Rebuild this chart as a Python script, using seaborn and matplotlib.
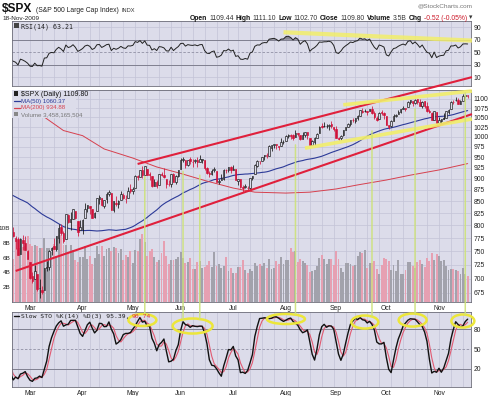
import numpy as np
import pandas as pd
import matplotlib
matplotlib.use("Agg")
import matplotlib.pyplot as plt
import matplotlib.transforms as mtransforms
from matplotlib.patches import Ellipse, ConnectionPatch, Rectangle
from matplotlib.lines import Line2D
import seaborn as sns

sns.set_style("white")
plt.rcParams['font.family'] = ['Liberation Sans', 'DejaVu Sans']

# ---------------------------------------------------------------- data
trading_days = {
    "2009-01": [2, 5, 6, 7, 8, 9, 12, 13, 14, 15, 16, 20, 21, 22, 23, 26, 27, 28, 29, 30],
    "2009-02": [2, 3, 4, 5, 6, 9, 10, 11, 12, 13, 17, 18, 19, 20, 23, 24, 25, 26, 27],
    "2009-03": [2, 3, 4, 5, 6, 9, 10, 11, 12, 13, 16, 17, 18, 19, 20, 23, 24, 25, 26, 27, 30, 31],
    "2009-04": [1, 2, 3, 6, 7, 8, 9, 13, 14, 15, 16, 17, 20, 21, 22, 23, 24, 27, 28, 29, 30],
    "2009-05": [1, 4, 5, 6, 7, 8, 11, 12, 13, 14, 15, 18, 19, 20, 21, 22, 26, 27, 28, 29],
    "2009-06": [1, 2, 3, 4, 5, 8, 9, 10, 11, 12, 15, 16, 17, 18, 19, 22, 23, 24, 25, 26, 29, 30],
    "2009-07": [1, 2, 6, 7, 8, 9, 10, 13, 14, 15, 16, 17, 20, 21, 22, 23, 24, 27, 28, 29, 30, 31],
    "2009-08": [3, 4, 5, 6, 7, 10, 11, 12, 13, 14, 17, 18, 19, 20, 21, 24, 25, 26, 27, 28, 31],
    "2009-09": [1, 2, 3, 4, 8, 9, 10, 11, 14, 15, 16, 17, 18, 21, 22, 23, 24, 25, 28, 29, 30],
    "2009-10": [1, 2, 5, 6, 7, 8, 9, 12, 13, 14, 15, 16, 19, 20, 21, 22, 23, 26, 27, 28, 29, 30],
    "2009-11": [2, 3, 4, 5, 6, 9, 10, 11, 12, 13, 16, 17, 18],
}

# closes of Dec 2008 (only feed the MA(50) / RSI(14) warm-up)
prior_closes_dec2008 = [816.21, 848.81, 870.74, 845.22, 876.07, 909.70, 888.67, 899.24, 873.59, 879.73,
                        868.57, 913.18, 904.42, 885.28, 887.88, 871.63, 863.16, 868.15, 872.80, 869.42,
                        890.64, 903.25]

opens = [
    # Jan
    902.99, 929.17, 931.17, 927.45, 905.73, 909.91, 890.40, 869.79, 867.28, 841.99, 844.45, 849.64, 806.77,
    839.74, 822.16, 832.50, 837.30, 845.73, 868.89, 845.69,
    # Feb
    823.09, 825.69, 837.77, 831.75, 846.09, 868.24, 866.87, 827.41, 829.91, 833.95, 818.61, 791.06, 787.91,
    775.87, 773.25, 744.69, 770.64, 765.76, 749.93,
    # Mar
    729.57, 704.44, 698.60, 708.27, 684.04, 680.76, 679.28, 719.59, 720.89, 751.97, 758.84, 753.88, 776.01,
    797.92, 784.58, 772.31, 820.60, 806.81, 814.06, 828.68, 809.07, 790.88,
    # Apr
    793.59, 814.53, 835.13, 839.75, 834.12, 816.76, 829.29, 855.33, 856.88, 839.44, 854.54, 865.18, 868.27,
    831.25, 847.26, 844.62, 853.91, 862.82, 854.48, 856.85, 876.59,
    # May
    872.74, 879.21, 906.10, 903.95, 919.58, 909.03, 922.99, 910.52, 905.40, 884.24, 892.76, 886.07, 909.67,
    908.62, 900.42, 888.68, 887.00, 909.95, 892.96, 907.02,
    # Jun
    923.26, 942.87, 942.51, 932.49, 945.67, 938.12, 940.35, 942.73, 939.04, 943.44, 942.45, 925.60, 911.89,
    910.86, 919.96, 918.13, 893.46, 896.31, 899.45, 918.84, 919.86, 927.15,
    # Jul
    920.82, 921.24, 894.27, 898.60, 881.90, 881.28, 880.03, 879.57, 900.77, 910.15, 930.17, 940.56, 942.07,
    951.97, 953.40, 954.07, 972.16, 978.63, 981.48, 977.66, 976.01, 986.80,
    # Aug
    990.22, 1001.41, 1005.41, 1004.06, 999.83, 1008.89, 1005.77, 994.00, 1005.86, 1012.23, 998.18, 980.62,
    986.88, 996.41, 1009.06, 1026.59, 1026.63, 1027.35, 1027.81, 1031.62, 1025.21,
    # Sep
    1019.52, 996.07, 996.12, 1003.84, 1018.67, 1025.36, 1032.99, 1043.92, 1040.15, 1049.03, 1053.99, 1067.87,
    1066.60, 1067.14, 1066.35, 1072.69, 1062.56, 1049.48, 1045.38, 1063.69, 1061.02,
    # Oct
    1054.91, 1029.71, 1026.87, 1042.02, 1053.65, 1060.03, 1065.28, 1071.63, 1074.96, 1078.68, 1090.36,
    1094.67, 1088.22, 1098.64, 1090.36, 1080.96, 1095.62, 1080.36, 1067.54, 1061.51, 1043.19, 1065.41,
    # Nov
    1036.18, 1040.92, 1047.14, 1047.30, 1064.95, 1072.31, 1091.86, 1096.04, 1098.31, 1087.59, 1094.13,
    1109.22, 1109.44,
]
highs = [
    934.73, 936.63, 943.85, 927.45, 910.00, 911.93, 890.40, 877.02, 867.28, 851.59, 858.13, 849.64, 841.72,
    839.74, 838.61, 852.53, 850.45, 877.86, 868.89, 851.66,
    830.78, 842.60, 851.85, 850.55, 870.75, 875.01, 868.05, 838.22, 835.48, 839.43, 818.61, 796.17, 797.58,
    778.69, 777.85, 775.49, 780.12, 779.42, 751.27,
    729.57, 711.67, 724.12, 708.27, 699.09, 686.14, 719.60, 731.92, 752.63, 758.29, 774.53, 778.12, 803.04,
    803.24, 788.91, 823.37, 823.65, 826.78, 832.98, 828.68, 809.07, 810.48,
    813.62, 845.61, 842.50, 839.75, 834.12, 828.42, 856.91, 864.31, 856.88, 852.93, 870.35, 875.63, 868.27,
    850.09, 861.78, 852.87, 871.80, 868.83, 864.48, 882.06, 888.70,
    880.48, 907.85, 907.70, 920.28, 929.58, 930.17, 922.99, 915.57, 905.40, 898.36, 896.97, 910.00, 916.39,
    924.60, 900.42, 896.65, 911.76, 913.84, 909.45, 920.02,
    947.77, 949.38, 942.51, 942.47, 951.69, 946.33, 946.92, 949.77, 956.23, 946.30, 942.45, 928.00, 918.44,
    921.93, 927.09, 918.13, 898.69, 910.85, 921.42, 922.00, 927.99, 930.01,
    931.92, 921.24, 898.72, 898.60, 886.80, 887.86, 883.57, 901.05, 905.84, 933.95, 943.96, 941.89, 951.62,
    956.53, 959.83, 979.42, 979.79, 982.49, 982.35, 977.76, 996.68, 993.18,
    1003.61, 1007.12, 1006.64, 1008.00, 1018.00, 1010.12, 1005.77, 1012.78, 1013.14, 1012.60, 998.18, 991.20,
    999.61, 1008.92, 1027.59, 1035.82, 1037.75, 1032.47, 1033.33, 1039.47, 1025.21,
    1028.45, 1000.34, 1003.43, 1016.48, 1026.07, 1036.34, 1044.14, 1048.18, 1049.74, 1056.04, 1068.76,
    1074.77, 1071.52, 1067.28, 1073.81, 1080.15, 1066.29, 1053.47, 1065.13, 1069.62, 1063.40,
    1054.91, 1030.60, 1042.58, 1060.55, 1058.02, 1070.67, 1071.51, 1079.46, 1075.30, 1093.17, 1096.56,
    1094.67, 1100.17, 1098.64, 1101.36, 1095.21, 1095.83, 1091.75, 1072.48, 1063.26, 1066.83, 1065.41,
    1052.18, 1046.36, 1061.00, 1066.65, 1071.48, 1093.19, 1096.42, 1105.37, 1101.97, 1097.79, 1113.69,
    1110.52, 1111.10,
]
lows = [
    899.35, 919.53, 927.28, 902.37, 896.81, 888.31, 864.32, 862.02, 836.93, 817.04, 830.66, 804.47, 804.30,
    811.29, 806.07, 827.69, 835.40, 845.73, 844.15, 821.67,
    812.87, 821.98, 829.18, 819.91, 845.42, 861.65, 822.99, 822.30, 808.06, 825.21, 789.17, 780.43, 777.03,
    754.25, 742.37, 744.69, 752.89, 751.75, 734.52,
    699.70, 692.30, 698.60, 677.93, 666.79, 672.88, 679.28, 713.85, 714.76, 742.46, 753.37, 749.93, 765.64,
    781.82, 766.20, 772.31, 805.48, 791.37, 814.06, 813.43, 779.81, 790.88,
    783.32, 814.53, 826.70, 822.79, 814.53, 814.84, 829.29, 845.35, 840.25, 835.58, 847.04, 860.87, 832.39,
    826.83, 840.57, 835.45, 853.91, 854.65, 847.12, 856.85, 868.51,
    866.10, 879.21, 897.34, 903.95, 901.36, 909.03, 908.68, 896.46, 882.27, 882.52, 878.94, 886.07, 905.22,
    901.37, 879.61, 883.75, 881.46, 891.87, 887.60, 903.56,
    923.26, 938.46, 923.85, 929.32, 934.13, 926.44, 936.15, 927.97, 939.04, 935.66, 919.65, 911.60, 903.78,
    907.94, 915.80, 893.04, 888.86, 896.31, 896.27, 913.03, 916.18, 912.86,
    920.82, 896.42, 886.36, 879.93, 869.32, 878.45, 872.81, 875.32, 896.50, 910.15, 927.45, 934.65, 940.99,
    943.22, 947.75, 953.27, 965.95, 972.29, 969.35, 968.65, 976.01, 982.85,
    990.22, 996.68, 994.31, 992.49, 999.83, 1000.99, 992.40, 993.36, 1000.82, 994.60, 978.51, 980.62,
    980.62, 996.39, 1009.06, 1022.48, 1026.21, 1021.57, 1016.20, 1023.13, 1014.62,
    996.28, 991.97, 992.25, 1001.65, 1018.67, 1023.97, 1028.04, 1038.40, 1035.00, 1043.42, 1052.87,
    1061.20, 1064.27, 1057.46, 1066.35, 1060.39, 1045.85, 1041.17, 1045.38, 1057.83, 1046.47,
    1029.45, 1019.95, 1025.92, 1042.02, 1050.10, 1060.03, 1063.00, 1071.63, 1066.71, 1078.68, 1086.41,
    1081.53, 1086.48, 1086.16, 1080.77, 1074.31, 1075.49, 1065.23, 1060.62, 1042.19, 1043.19, 1033.38,
    1029.38, 1033.94, 1045.15, 1047.30, 1059.32, 1072.31, 1087.40, 1093.81, 1084.90, 1085.33, 1094.13,
    1102.19, 1102.70,
]
closes = [
    931.80, 927.45, 934.70, 906.65, 909.73, 890.35, 870.26, 871.79, 842.62, 843.74, 850.12, 805.22, 840.24,
    827.50, 831.95, 836.57, 845.71, 874.09, 845.14, 825.88,
    825.44, 838.51, 832.23, 845.85, 868.60, 869.89, 827.16, 833.74, 835.19, 826.84, 789.17, 788.42, 778.94,
    770.05, 743.33, 773.14, 764.90, 752.83, 735.09,
    700.82, 696.33, 712.87, 682.55, 683.38, 676.53, 719.60, 721.36, 750.74, 756.55, 753.89, 778.12, 794.35,
    784.04, 768.54, 822.92, 806.12, 813.88, 832.86, 815.94, 787.53, 797.87,
    811.08, 834.38, 842.50, 835.48, 815.55, 825.16, 856.56, 858.73, 841.50, 852.06, 865.30, 869.60, 832.39,
    850.08, 843.55, 851.92, 866.23, 857.51, 855.16, 873.64, 872.81,
    877.52, 907.24, 903.80, 919.53, 907.39, 929.23, 909.24, 908.35, 883.92, 893.07, 882.88, 909.71, 908.13,
    903.47, 888.33, 887.00, 910.33, 893.06, 906.83, 919.14,
    942.87, 944.74, 931.76, 942.46, 940.09, 939.14, 942.43, 939.15, 944.89, 946.21, 923.72, 911.97, 910.71,
    918.37, 921.23, 893.04, 895.10, 900.94, 920.26, 918.90, 927.23, 919.32,
    923.33, 896.42, 898.72, 881.03, 879.56, 882.68, 879.13, 901.05, 905.84, 932.68, 940.74, 940.38, 951.13,
    954.58, 954.07, 976.29, 979.26, 982.18, 979.62, 975.15, 986.75, 987.48,
    1002.63, 1005.65, 1002.72, 997.08, 1010.48, 1007.10, 994.35, 1005.81, 1012.73, 1004.09, 979.73, 989.67,
    996.46, 1007.37, 1026.13, 1025.57, 1028.00, 1028.12, 1030.98, 1028.93, 1020.62,
    998.04, 994.75, 1003.24, 1016.40, 1025.39, 1033.37, 1044.14, 1042.73, 1049.34, 1052.63, 1068.76,
    1065.49, 1068.30, 1064.66, 1071.66, 1060.87, 1050.78, 1044.38, 1062.98, 1060.61, 1057.08,
    1029.85, 1025.21, 1040.46, 1054.72, 1057.58, 1065.48, 1071.49, 1076.19, 1073.19, 1092.02, 1096.56,
    1087.68, 1097.91, 1091.06, 1081.40, 1092.91, 1079.60, 1066.95, 1063.41, 1042.63, 1066.11, 1036.19,
    1042.88, 1045.41, 1046.50, 1066.63, 1069.30, 1093.08, 1093.01, 1098.51, 1087.24, 1093.48, 1109.30,
    1110.32, 1109.80,
]
volumes_bn = [
    4.05, 5.41, 5.39, 4.70, 4.99, 4.83, 4.73, 5.57, 5.79, 7.81, 6.79, 6.38, 6.47, 5.84, 5.83, 6.04, 5.35,
    6.20, 5.07, 5.35,
    5.67, 5.89, 6.42, 6.62, 6.48, 5.57, 6.29, 5.93, 6.48, 5.30, 5.91, 5.74, 5.75, 8.21, 7.23, 7.23, 7.48,
    7.60, 8.93,
    7.87, 7.58, 7.67, 7.51, 7.33, 7.28, 8.62, 7.26, 7.33, 6.79, 7.88, 6.16, 9.10, 9.03, 7.64, 7.72, 6.77,
    7.69, 6.99, 5.60, 5.35, 6.09,
    6.03, 7.54, 5.86, 6.21, 5.16, 5.94, 7.60, 6.43, 7.57, 6.24, 7.10, 7.35, 6.87, 7.44, 7.33, 6.56, 7.11,
    5.61, 6.33, 6.10, 6.86,
    5.31, 7.04, 6.88, 8.56, 9.12, 8.16, 6.15, 6.87, 7.09, 6.13, 5.44, 5.70, 6.62, 8.21, 6.19, 5.16, 5.67,
    5.70, 5.74, 6.05,
    6.71, 5.99, 5.32, 5.35, 5.92, 4.48, 4.44, 5.38, 5.50, 4.53, 4.70, 4.95, 5.52, 4.68, 6.71, 4.90, 5.07,
    4.64, 4.91, 6.08, 4.21, 4.63,
    3.92, 3.93, 4.71, 4.67, 5.72, 4.35, 3.91, 4.50, 4.15, 5.24, 4.90, 5.14, 4.85, 5.31, 4.63, 5.76, 4.46,
    4.63, 5.49, 5.18, 6.04, 5.14,
    5.60, 5.71, 7.24, 6.75, 6.83, 5.41, 5.77, 5.50, 5.25, 4.94, 4.09, 4.20, 4.26, 4.89, 5.89, 6.30, 5.77,
    5.08, 5.79, 5.79, 5.00,
    6.86, 5.84, 4.62, 4.10, 5.24, 5.20, 5.19, 4.92, 4.98, 6.19, 6.79, 6.67, 7.00, 4.61, 5.25, 5.31, 5.51,
    4.51, 3.73, 4.95, 5.99,
    5.79, 5.58, 4.31, 5.03, 4.24, 5.60, 3.76, 3.71, 4.32, 5.41, 5.37, 4.89, 4.62, 5.40, 5.62, 5.19, 4.77,
    6.00, 5.56, 6.60, 5.60, 6.51,
    6.20, 5.49, 5.64, 4.85, 4.28, 4.46, 4.39, 4.29, 4.16, 3.79, 4.57, 3.82, 3.46,
]

# 200-day moving average
ma200_dates = ["2009-02-19", "2009-03-02", "2009-03-10", "2009-03-20", "2009-04-01", "2009-04-15",
               "2009-05-01", "2009-05-15", "2009-06-01", "2009-06-15", "2009-07-01", "2009-07-15",
               "2009-08-03", "2009-08-17", "2009-09-01", "2009-09-15", "2009-10-01", "2009-10-15",
               "2009-11-02", "2009-11-18"]
ma200_values = [1098, 1072, 1051, 1016, 1003, 970, 948, 927, 912, 896, 879, 870,
                868, 870, 877, 886, 897, 908, 920, 934.88]

month_names = ["Mar", "Apr", "May", "Jun", "Jul", "Aug", "Sep", "Oct", "Nov"]
price_ticks = [675, 700, 725, 750, 775, 800, 825, 850, 875, 900, 925, 950, 975, 1000, 1025, 1050, 1075, 1100]
rsi_ticks = [10, 30, 50, 70, 90]
sto_ticks = [20, 50, 80]
volume_ticks_bn = [2, 4, 6, 8, 10]
volume_tick_labels = ["2B", "4B", "6B", "8B", "10B"]

# hand-drawn annotations (date, value)
red_channel_upper = [("2009-05-05", 934.0), ("2009-11-18", 1159.0)]
red_channel_lower = [("2009-02-20", 713.5), ("2009-11-18", 1055.0)]
yellow_price_upper = [("2009-09-04", 1084.0), ("2009-11-18", 1121.0)]
yellow_price_lower = [("2009-08-13", 972.0), ("2009-11-18", 1044.0)]
yellow_rsi = [("2009-07-31", 82.0), ("2009-11-18", 69.0)]
green_marker_dates = ["2009-05-08", "2009-06-02", "2009-06-11", "2009-08-07", "2009-09-23", "2009-10-19",
                      "2009-11-17"]
green_marker_price_top = [905, 917, 908, 980, 1015, 1073, 1117]
green_marker_sto_bottom = [103, 95, 95.5, 103, 99.5, 104, 102]
sto_circle_dates = ["2009-05-07", "2009-06-08", "2009-08-03", "2009-09-18", "2009-10-16", "2009-11-16"]
sto_circle_levels = [94, 85, 95.6, 91, 94, 92.6]
sto_circle_widths_days = [11.7, 16.7, 15.9, 11.3, 11.7, 9.6]
sto_circle_heights = [18, 22.7, 15.2, 19.7, 19.7, 19.7]

# ---------------------------------------------------------------- derived series
dates = [pd.Timestamp(f"{m}-{d:02d}") for m, days in trading_days.items() for d in days]
pos_of = {d.strftime("%Y-%m-%d"): i for i, d in enumerate(dates)}
n = len(dates)
xs = np.arange(n)
o = np.array(opens); h = np.array(highs); l = np.array(lows); c = np.array(closes)
v = np.array(volumes_bn)

all_c = np.array(prior_closes_dec2008 + closes)
npri = len(prior_closes_dec2008)
ma50 = pd.Series(all_c).rolling(50).mean().to_numpy()[npri:]

delta = np.diff(all_c)
gain = np.clip(delta, 0, None); loss = np.clip(-delta, 0, None)
rsi_all = np.full(len(all_c), np.nan)
ag, al = gain[:14].mean(), loss[:14].mean()
rsi_all[14] = 100 - 100 / (1 + ag / al)
for k in range(14, len(delta)):
    ag = (ag * 13 + gain[k]) / 14
    al = (al * 13 + loss[k]) / 14
    rsi_all[k + 1] = 100 - 100 / (1 + ag / al)
rsi = rsi_all[npri:]

hh = pd.Series(h).rolling(14).max(); ll = pd.Series(l).rolling(14).min()
fast_k = 100 * (pd.Series(c) - ll) / (hh - ll)
slow_k = fast_k.rolling(3).mean().to_numpy()
slow_d = pd.Series(slow_k).rolling(3).mean().to_numpy()

week_starts = [i for i in range(1, n) if dates[i].weekday() < dates[i - 1].weekday()]
month_starts = [i for i in range(1, n) if dates[i].month != dates[i - 1].month][1:]

# ---------------------------------------------------------------- figure
W, H = 490, 396
BG = '#dcdcea'
GRID = '#c3c3d7'
DARK = '#808090'
RED = '#d0123a'
XMIN, XMAX = 31.48, 223.4

fig = plt.figure(figsize=(W / 100, H / 100), dpi=100)
fig.patch.set_facecolor('white')


def rect(x0, y0, x1, y1):
    return [x0 / W, 1 - y1 / H, (x1 - x0) / W, (y1 - y0) / H]


ax_rsi = fig.add_axes(rect(12, 21, 471, 86))
ax_main = fig.add_axes(rect(12, 90, 471, 302))
ax_sto = fig.add_axes(rect(12, 312, 471, 386.5))
ax_vl = ax_main.twinx()

for ax in (ax_rsi, ax_main, ax_sto):
    ax.set_facecolor(BG)
    for s in ax.spines.values():
        s.set_color('#6c6c78'); s.set_linewidth(0.6)
    ax.set_xlim(XMIN, XMAX)
    ax.yaxis.tick_right()
    ax.yaxis.set_label_position('right')
    ax.tick_params(axis='both', length=0, labelsize=4.9, colors='#222222', pad=1.8)
    for wk in week_starts:
        ax.axvline(wk, color=GRID, lw=0.5, zorder=0.5)
    ax.set_xticks(month_starts)
    ax.set_xticklabels([])

vis = xs >= 31
xv = xs[vis]

# ----- RSI panel
ax_rsi.set_ylim(-4, 100)
ax_rsi.set_yticks(rsi_ticks)
ax_rsi.set_yticklabels([str(t) for t in rsi_ticks])
for t in (10, 90):
    ax_rsi.axhline(t, color=GRID, lw=0.5, zorder=0.6)
for t in (30, 70):
    ax_rsi.axhline(t, color=DARK, lw=0.7, zorder=0.7)
ax_rsi.axhline(50, color='#9090a4', lw=0.6, ls=(0, (3, 2)), zorder=0.7)
rv = rsi[vis]
ax_rsi.fill_between(xv, rv, 70, where=rv >= 70, interpolate=True, color='#6a6a76', alpha=0.75, lw=0, zorder=1)
ax_rsi.fill_between(xv, rv, 30, where=rv <= 30, interpolate=True, color='#6a6a76', alpha=0.75, lw=0, zorder=1)
sns.lineplot(x=xv, y=rv, ax=ax_rsi, color='#202020', lw=0.7, zorder=2)
ax_rsi.set_xlabel(''); ax_rsi.set_ylabel('')

# ----- main price panel
ax_main.set_yscale('log')
ax_main.set_ylim(659.8, 1125.2)
ax_main.set_yticks(price_ticks)
ax_main.set_yticklabels([str(p) for p in price_ticks])
ax_main.yaxis.set_minor_locator(matplotlib.ticker.NullLocator())
ax_main.yaxis.set_minor_formatter(matplotlib.ticker.NullFormatter())
for p in price_ticks + [1125]:
    ax_main.axhline(p, color=GRID, lw=0.5, zorder=0.6)
ax_main.set_xticklabels(month_names)
ax_main.tick_params(axis='x', pad=2.5)

ax_vl.set_ylim(0, 28.6)
ax_vl.set_xlim(XMIN, XMAX)
ax_vl.yaxis.tick_left()
ax_vl.yaxis.set_label_position('left')
ax_vl.set_yticks(volume_ticks_bn)
ax_vl.set_yticklabels(volume_tick_labels)
ax_vl.tick_params(axis='y', length=0, labelsize=4.6, colors='#222222', pad=1.2)
ax_vl.patch.set_visible(False)
for s in ax_vl.spines.values():
    s.set_visible(False)
ax_main.yaxis.tick_right()

vol_trans = mtransforms.blended_transform_factory(ax_main.transData, ax_vl.transData)
cv = xs >= 32
up = np.r_[True, c[1:] >= c[:-1]]
vol_colors = np.where(up, '#a2a2ac', '#e6a0b2')
ax_main.bar(xs[cv], v[cv], width=0.8, bottom=0, color=vol_colors[cv], lw=0, transform=vol_trans, zorder=1)

# moving averages
sns.lineplot(x=xv, y=ma50[vis], ax=ax_main, color='#2c3a98', lw=0.8, zorder=2)
ma200_x = [pos_of[d] for d in ma200_dates]
sns.lineplot(x=ma200_x, y=ma200_values, ax=ax_main, color='#d6404e', lw=0.7, zorder=2)
ax_main.set_xlabel(''); ax_main.set_ylabel('')

# candles
cand_col = np.where(up, '#111111', RED)
filled = c < o
ax_main.vlines(xs[cv], l[cv], h[cv], colors=cand_col[cv], lw=0.55, zorder=3)
body_lo = np.minimum(o, c)
body_h = np.maximum(np.abs(c - o), 0.8)
face = np.where(filled, cand_col, BG)
ax_main.bar(xs[cv], body_h[cv], bottom=body_lo[cv], width=0.62, color=face[cv], edgecolor=cand_col[cv],
            lw=0.45, zorder=4)
ax_main.set_ylim(659.8, 1125.2)
ax_main.set_xlim(XMIN, XMAX)

# legend backing box
ax_main.add_patch(Rectangle((0, (302 - 118) / 212), (76 - 12) / 459, 1, transform=ax_main.transAxes,
                            facecolor=BG, edgecolor='none', zorder=5))

# ----- STO panel
ax_sto.set_ylim(-6.5, 106.2)
ax_sto.set_yticks(sto_ticks)
ax_sto.set_yticklabels([str(t) for t in sto_ticks])
for t in (20, 80):
    ax_sto.axhline(t, color=DARK, lw=0.7, zorder=0.7)
ax_sto.axhline(50, color='#9090a4', lw=0.6, ls=(0, (3, 2)), zorder=0.7)
sns.lineplot(x=xv, y=slow_d[vis], ax=ax_sto, color='#e25a72', lw=0.8, zorder=2)
sns.lineplot(x=xv, y=slow_k[vis], ax=ax_sto, color='#111111', lw=1.0, zorder=3)
ax_sto.set_xticklabels(month_names)
ax_sto.tick_params(axis='x', pad=2.5)
ax_sto.set_xlabel(''); ax_sto.set_ylabel('')

# ----- annotations
def trend(ax, anchors, color, lw, alpha=1.0, z=6):
    (d0, v0), (d1, v1) = anchors
    x0, x1 = pos_of[d0], pos_of[d1]
    log = ax.get_yscale() == 'log'
    f0, f1 = (np.log(v0), np.log(v1)) if log else (v0, v1)
    xe = XMAX + 0.4
    fe = f0 + (f1 - f0) * (xe - x0) / (x1 - x0)
    ve = np.exp(fe) if log else fe
    ax.plot([x0, xe], [v0, ve], color=color, lw=lw, alpha=alpha, zorder=z, clip_on=False,
            solid_capstyle='butt')


trend(ax_main, red_channel_upper, '#e0203c', 1.5)
trend(ax_main, red_channel_lower, '#e0203c', 1.5)
trend(ax_main, yellow_price_upper, '#f2ee6a', 2.6, 0.9)
trend(ax_main, yellow_price_lower, '#f2ee6a', 2.6, 0.9)
trend(ax_rsi, yellow_rsi, '#f2ee6a', 3.0, 0.85)

for d, top, bot in zip(green_marker_dates, green_marker_price_top, green_marker_sto_bottom):
    xp = pos_of[d]
    con = ConnectionPatch(xyA=(xp, top), coordsA=ax_main.transData, xyB=(xp, bot), coordsB=ax_sto.transData,
                          color='#cde27a', lw=1.1, alpha=0.9, zorder=1)
    fig.add_artist(con)

for d, lev, wd, ht in zip(sto_circle_dates, sto_circle_levels, sto_circle_widths_days, sto_circle_heights):
    ax_sto.add_patch(Ellipse((pos_of[d], lev), wd, ht, fill=False, edgecolor='#ece63a', lw=1.8,
                             zorder=6, clip_on=False))

# ----- texts
def ftxt(x, y, s, **kw):
    return fig.text(x / W, 1 - y / H, s, va='baseline', **kw)


renderer = fig.canvas.get_renderer()
ftxt(2, 12.5, "$SPX", fontsize=8.6, fontweight='bold', color='#111111')
t_name = ftxt(36, 12.5, "(S&P 500 Large Cap Index)", fontsize=4.9, color='#222222')
wn = t_name.get_window_extent(renderer).width
ftxt(36 + wn + 3, 12.5, "INDX", fontsize=4.1, color='#333333')
ftxt(2, 20, "18-Nov-2009", fontsize=4.6, color='#222222')
ftxt(472, 7, "@StockCharts.com", fontsize=4.6, color='#777777', ha='right')

pieces = [("Open", 'bold', '#111111'), ("1109.44", 'normal', '#333333'),
          ("High", 'bold', '#111111'), ("1111.10", 'normal', '#333333'),
          ("Low", 'bold', '#111111'), ("1102.70", 'normal', '#333333'),
          ("Close", 'bold', '#111111'), ("1109.80", 'normal', '#333333'),
          ("Volume", 'bold', '#111111'), ("3.5B", 'normal', '#333333'),
          ("Chg", 'bold', '#111111'), ("-0.52 (-0.05%)", 'normal', '#cc1a2a'),
          ("\u25be", 'normal', '#333333')]
# fit the header line into the span it takes in the chart (x 187 .. 472)
probe_size = 5.0
tot = 0
for txt, wgt, col in pieces:
    tp = fig.text(0, 0, txt, fontsize=probe_size, fontweight=wgt)
    tot += tp.get_window_extent(renderer).width
    tp.remove()
gap = 2.0
hdr_size = probe_size * (285 - gap * (len(pieces) - 1)) / tot
xr = 472
for txt, wgt, col in reversed(pieces):
    t = ftxt(xr, 19.5, txt, fontsize=hdr_size, fontweight=wgt, color=col, ha='right')
    xr -= t.get_window_extent(renderer).width + gap

# RSI label
fig.add_artist(Rectangle((14 / W, 1 - 28 / H), 5 / W, 5 / H, transform=fig.transFigure, facecolor='#444444',
                         edgecolor='none'))
ftxt(21, 28, "RSI(14) 63.21", fontsize=4.8, color='#222222', family='DejaVu Sans Mono')

# main legend
fig.add_artist(Rectangle((14 / W, 1 - 96 / H), 4 / W, 5 / H, transform=fig.transFigure, facecolor='#222222',
                         edgecolor='none'))
ftxt(21, 96.5, "$SPX (Daily) 1109.80", fontsize=5.0, color='#111111')
fig.add_artist(Line2D([14 / W, 20 / W], [1 - 101 / H] * 2, color='#2c3a98', lw=0.9))
ftxt(21, 103, "MA(50) 1060.37", fontsize=4.4, color='#2c3a98')
fig.add_artist(Line2D([14 / W, 20 / W], [1 - 107.5 / H] * 2, color='#d6404e', lw=0.9))
ftxt(21, 109.5, "MA(200) 934.88", fontsize=4.4, color='#d6404e')
fig.add_artist(Rectangle((14 / W, 1 - 116 / H), 4 / W, 4 / H, transform=fig.transFigure, facecolor='#888888',
                         edgecolor='none'))
ftxt(21, 116, "Volume 3,458,165,504", fontsize=4.4, color='#777777')

# STO label
fig.add_artist(Line2D([14 / W, 19 / W], [1 - 316 / H] * 2, color='#111111', lw=1.0))
t1 = ftxt(21, 318, "Slow STO %K(14) %D(3) 95.39,", fontsize=4.6, color='#222222', family='DejaVu Sans Mono')
wt = t1.get_window_extent(renderer).width
ftxt(21 + wt + 2, 318, "90.74", fontsize=4.6, color='#e0304a', family='DejaVu Sans Mono')

fig.savefig('out.png', dpi=100)
